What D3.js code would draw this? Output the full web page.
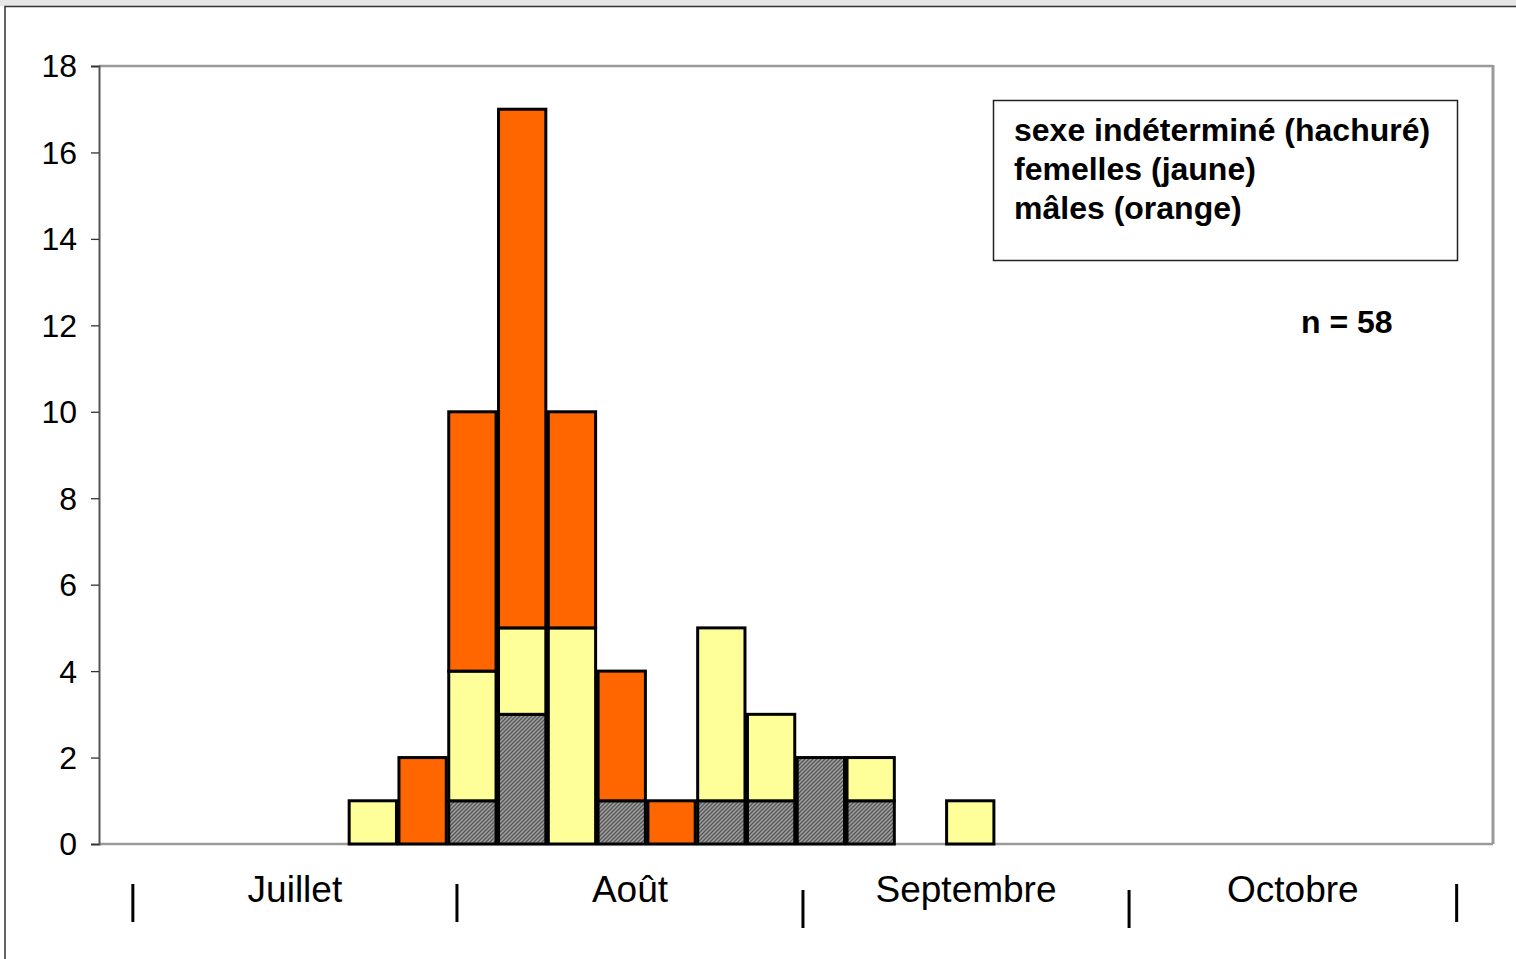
<!DOCTYPE html>
<meta charset="utf-8">
<style>
    body { margin: 0; background: #fff; }
    svg { display: block; font-family: "Liberation Sans", Arial, sans-serif; }
    .tick-label { font-size: 32px; fill: #000; }
    .month-label { font-size: 37px; fill: #000; }
    .legend-text { font-size: 32px; font-weight: bold; fill: #000; }
    .bar { stroke: #000; stroke-width: 3px; }
</style>
<body>
<div id="chart"></div>
<script src="https://d3js.org/d3.v7.min.js"></script>
<script>
    // one slot per time bin, 28 bins over Juillet..Octobre
    var slots = d3.range(28);
    // counts per bin
    var indetermines = [0,0,0,0,0,0,0,1,3,0,1,0,1,1,2,1,0,0,0,0,0,0,0,0,0,0,0,0];
    var femelles     = [0,0,0,0,0,1,0,3,2,5,0,0,4,2,0,1,0,1,0,0,0,0,0,0,0,0,0,0];
    var males        = [0,0,0,0,0,0,2,6,12,5,3,1,0,0,0,0,0,0,0,0,0,0,0,0,0,0,0,0];
    var yTicks = [0,2,4,6,8,10,12,14,16,18];
    var months = ["Juillet", "Août", "Septembre", "Octobre"];
    // month boundaries, in bin units
    var monthEdges = [0.68, 7.19, 14.14, 20.69, 27.27];
    var legendLines = ["sexe indéterminé (hachuré)", "femelles (jaune)", "mâles (orange)"];
    var total = d3.sum(indetermines) + d3.sum(femelles) + d3.sum(males);

    var width = 1516, height = 959;
    var plotLeft = 99, plotRight = 1493, plotTop = 66, plotBottom = 844;

    var svg = d3.select("#chart").append("svg")
        .attr("width", width)
        .attr("height", height);

    var defs = svg.append("defs");
    var pat = defs.append("pattern")
        .attr("id", "hatch")
        .attr("patternUnits", "userSpaceOnUse")
        .attr("width", 4).attr("height", 4);
    pat.append("rect").attr("width", 4).attr("height", 4).attr("fill", "#a0a0a0");
    pat.append("path")
        .attr("d", "M0,4 L4,0 M-1,1 L1,-1 M3,5 L5,3")
        .attr("stroke", "#555")
        .attr("stroke-width", 1.3);

    // page frame
    svg.append("rect").attr("x", 0).attr("y", 0).attr("width", width).attr("height", 6).attr("fill", "#e6e6e6");
    svg.append("rect").attr("x", 5).attr("y", 6.5).attr("width", width + 10).attr("height", height + 10)
        .attr("fill", "#fff").attr("stroke", "#333").attr("stroke-width", 1.5);

    var x = d3.scaleBand()
        .domain(slots)
        .range([plotLeft, plotRight])
        .paddingInner(0.05)
        .paddingOuter(0.025);

    var xLin = d3.scaleLinear().domain([0, 28]).range([plotLeft, plotRight]);

    var y = d3.scaleLinear().domain([0, 18]).range([plotBottom, plotTop]);

    // plot frame
    svg.append("line").attr("x1", plotLeft).attr("x2", plotRight).attr("y1", plotTop).attr("y2", plotTop)
        .attr("stroke", "#9a9a9a").attr("stroke-width", 2.5);
    svg.append("line").attr("x1", plotRight).attr("x2", plotRight).attr("y1", plotTop - 1).attr("y2", plotBottom)
        .attr("stroke", "#9a9a9a").attr("stroke-width", 3);
    svg.append("line").attr("x1", plotLeft).attr("x2", plotRight).attr("y1", plotBottom).attr("y2", plotBottom)
        .attr("stroke", "#9a9a9a").attr("stroke-width", 2.5);

    // y axis
    var yAxis = svg.append("g")
        .attr("transform", "translate(" + plotLeft + ",0)")
        .call(d3.axisLeft(y).tickValues(yTicks).tickSize(8).tickPadding(14));
    yAxis.attr("font-size", null).attr("font-family", null);
    yAxis.select(".domain").attr("stroke", "#555").attr("stroke-width", 2);
    yAxis.selectAll(".tick line").attr("stroke", "#333").attr("stroke-width", 1.3);
    yAxis.selectAll(".tick text")
        .attr("class", "tick-label")
        .attr("dy", "0.34em");

    // stacked bars
    var rows = slots.map(i => ({slot: i, indet: indetermines[i], fem: femelles[i], mal: males[i]}));
    var stack = d3.stack().keys(["indet", "fem", "mal"])(rows);
    var fills = {indet: "url(#hatch)", fem: "#ffff99", mal: "#ff6600"};

    svg.append("g").selectAll("g")
        .data(stack)
        .join("g")
        .attr("fill", d => fills[d.key])
        .selectAll("rect")
        .data(d => d.filter(s => s[1] > s[0]))
        .join("rect")
        .attr("class", "bar")
        .attr("x", d => x(d.data.slot))
        .attr("width", x.bandwidth())
        .attr("y", d => y(d[1]))
        .attr("height", d => y(d[0]) - y(d[1]));

    // month separators and labels
    var tickOffsets = [0, 0, 6, 6, 0];
    svg.append("g").selectAll("line")
        .data(monthEdges)
        .join("line")
        .attr("x1", d => xLin(d)).attr("x2", d => xLin(d))
        .attr("y1", (d, i) => 884 + tickOffsets[i])
        .attr("y2", (d, i) => 922 + tickOffsets[i])
        .attr("stroke", "#000")
        .attr("stroke-width", 3);

    svg.append("g").selectAll("text")
        .data(months)
        .join("text")
        .attr("class", "month-label")
        .attr("x", (d, i) => xLin((monthEdges[i] + monthEdges[i + 1]) / 2))
        .attr("y", 902)
        .attr("text-anchor", "middle")
        .text(d => d);

    // legend box
    svg.append("rect")
        .attr("x", 993.5).attr("y", 100.5)
        .attr("width", 464).attr("height", 160)
        .attr("fill", "#fff").attr("stroke", "#222").attr("stroke-width", 1.5);

    svg.append("g").selectAll("text")
        .data(legendLines)
        .join("text")
        .attr("class", "legend-text")
        .attr("x", 1014)
        .attr("y", (d, i) => 141 + i * 39)
        .text(d => d);

    svg.append("text")
        .attr("class", "legend-text")
        .attr("x", 1301)
        .attr("y", 333)
        .text("n = " + total);
</script>
</body>
